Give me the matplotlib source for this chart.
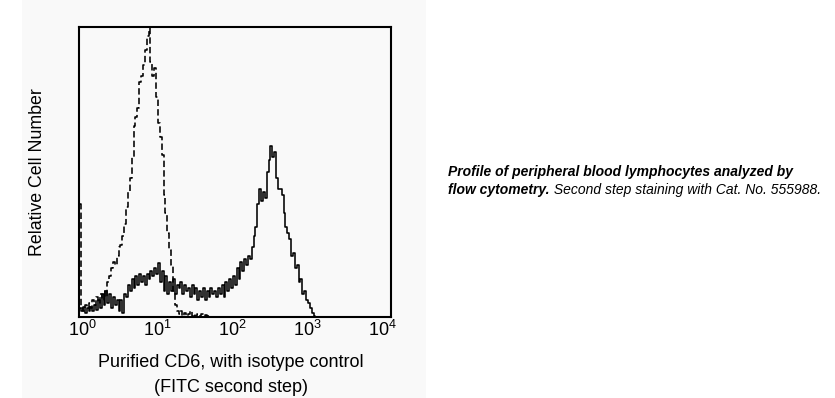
import matplotlib
matplotlib.use("Agg")
import matplotlib.pyplot as plt
import numpy as np
from matplotlib.patches import Rectangle
from matplotlib.ticker import FixedLocator, LogFormatterSciNotation

plt.rcParams['font.family'] = ['Liberation Sans', 'DejaVu Sans']
plt.rcParams['mathtext.fontset'] = 'custom'
plt.rcParams['mathtext.rm'] = 'Liberation Sans'
plt.rcParams['mathtext.it'] = 'Liberation Sans:italic'
plt.rcParams['mathtext.bf'] = 'Liberation Sans:bold'

# histogram channels, in decades (log10 of FITC intensity)
decades = [-0.025, 0.000, 0.025, 0.050, 0.075, 0.100, 0.125, 0.150, 0.175, 0.200,
           0.225, 0.250, 0.275, 0.300, 0.325, 0.350, 0.375, 0.400, 0.425, 0.450,
           0.475, 0.500, 0.525, 0.550, 0.575, 0.600, 0.625, 0.650, 0.675, 0.700,
           0.725, 0.750, 0.775, 0.800, 0.825, 0.850, 0.875, 0.900, 0.925, 0.950,
           0.975, 1.000, 1.025, 1.050, 1.075, 1.100, 1.125, 1.150, 1.175, 1.200,
           1.225, 1.250, 1.275, 1.300, 1.325, 1.350, 1.375, 1.400, 1.425, 1.450,
           1.475, 1.500, 1.525, 1.550, 1.575, 1.600, 1.625, 1.650, 1.675, 1.700,
           1.725, 1.750, 1.775, 1.800, 1.825, 1.850, 1.875, 1.900, 1.925, 1.950,
           1.975, 2.000, 2.025, 2.050, 2.075, 2.100, 2.125, 2.150, 2.175, 2.200,
           2.225, 2.250, 2.275, 2.300, 2.325, 2.350, 2.375, 2.400, 2.425, 2.450,
           2.475, 2.500, 2.525, 2.550, 2.575, 2.600, 2.625, 2.650, 2.675, 2.700,
           2.725, 2.750, 2.775, 2.800, 2.825, 2.850, 2.875, 2.900, 2.925, 2.950,
           2.975, 3.000, 3.025, 3.050, 3.075, 3.100, 3.125, 3.150, 3.175]

# Purified CD6 (solid line), relative cell number
cd6 = [3, 2, 3.5, 1.5, 3, 2, 3.5, 2, 4, 2.5,
       6, 3, 8, 4, 9, 5, 8, 3, 7, 4,
       6, 2, 6, 1.5, 8, 7, 11, 9, 13, 10,
       14, 11, 15, 12, 14, 11, 15, 13, 16, 14,
       17, 15, 18.5, 12, 16, 9, 14, 8, 12, 9,
       13, 8, 11, 10, 12, 8, 11, 9, 10, 7,
       11, 8, 10, 6, 9, 7, 10, 6, 9, 7,
       10, 8, 9, 7, 10, 8, 11, 7, 12, 9,
       13, 10, 14, 11, 17, 13, 19, 16, 20, 18,
       21, 20, 24, 28, 31, 39, 44, 40, 43, 41,
       50, 54, 59, 55, 57, 48, 44, 44, 42, 36,
       31, 29, 27, 21, 22, 17, 18, 12, 13, 8,
       9, 6, 5, 3, 1.5, 0.5, 0, 0, 0]

# isotype control (dashed line), relative cell number
isotype = [39, 3, 2, 4, 3, 5, 3, 6, 4, 7,
           5, 8, 6, 9, 7, 12, 14, 17, 19, 18,
           21, 24, 25, 28, 32, 38, 43, 48, 55, 66,
           69, 72, 81, 83, 87, 92, 97, 110, 88, 83,
           86, 76, 67, 62, 56, 42, 36, 29, 23, 18,
           9, 4, 2, 1, 2, 0.5, 1.5, 0.5, 1, 2,
           0.5, 1, 0.3, 1, 0.5, 1, 0.3, 0.8, 0.3, 0.5,
           0, 0, 0, 0, 0, 0, 0, 0, 0, 0,
           0, 0, 0, 0, 0, 0, 0, 0, 0, 0,
           0, 0, 0, 0, 0, 0, 0, 0, 0, 0,
           0, 0, 0, 0, 0, 0, 0, 0, 0, 0,
           0, 0, 0, 0, 0, 0, 0, 0, 0, 0,
           0, 0, 0, 0, 0, 0, 0, 0, 0]

tick_values = [1, 10, 100, 1000, 10000]

W, H = 835, 398
fig = plt.figure(figsize=(W / 100, H / 100), dpi=100)
fig.patch.set_facecolor('white')

# light grey panel behind the histogram
fig.patches.append(Rectangle((22 / W, 0), (426 - 22) / W, 1, transform=fig.transFigure,
                             facecolor='#f9f9f9', edgecolor='none', zorder=-1))

ax = fig.add_axes([79 / W, 1 - 317 / H, (391 - 79) / W, (317 - 27) / H])
ax.set_facecolor('none')

x = 10 ** np.array(decades)
ax.plot(x, isotype, color='black', lw=1.15, ls=(0, (4, 2)), drawstyle='steps-mid')
ax.plot(x, cd6, color='black', lw=1.15, drawstyle='steps-mid')

ax.set_xscale('log')
ax.set_xlim(10 ** -0.04, 10 ** 4.12)
ax.set_ylim(0, 100)
ax.xaxis.set_major_locator(FixedLocator(tick_values))
ax.xaxis.set_minor_locator(FixedLocator([]))
ax.xaxis.set_major_formatter(LogFormatterSciNotation())
ax.set_yticks([])
ax.tick_params(axis='x', length=0, pad=2, labelsize=13)
for s in ax.spines.values():
    s.set_linewidth(1.5)

# axis titles
fig.text(38 / W, 1 - 172 / H, 'Relative Cell Number', rotation=90,
         ha='center', va='center', fontsize=12.8)
fig.text(230.5 / W, 1 - 366.7 / H, 'Purified CD6, with isotype control',
         ha='center', va='baseline', fontsize=13)
fig.text(230.5 / W, 1 - 391.7 / H, '(FITC second step)',
         ha='center', va='baseline', fontsize=13)

# caption
fig.text(448.5 / W, 1 - 176 / H, 'Profile of peripheral blood lymphocytes analyzed by',
         fontsize=10, fontweight='bold', fontstyle='italic', va='baseline')
t_bold = fig.text(448.5 / W, 1 - 194.3 / H, 'flow cytometry.',
                  fontsize=10, fontweight='bold', fontstyle='italic', va='baseline')
renderer = fig.canvas.get_renderer()
bb = t_bold.get_window_extent(renderer=renderer)
fig.text(bb.x1 / W, 1 - 194.3 / H, ' Second step staining with Cat. No. 555988.',
         fontsize=10, fontstyle='italic', va='baseline')

fig.savefig('out.png', dpi=100)
